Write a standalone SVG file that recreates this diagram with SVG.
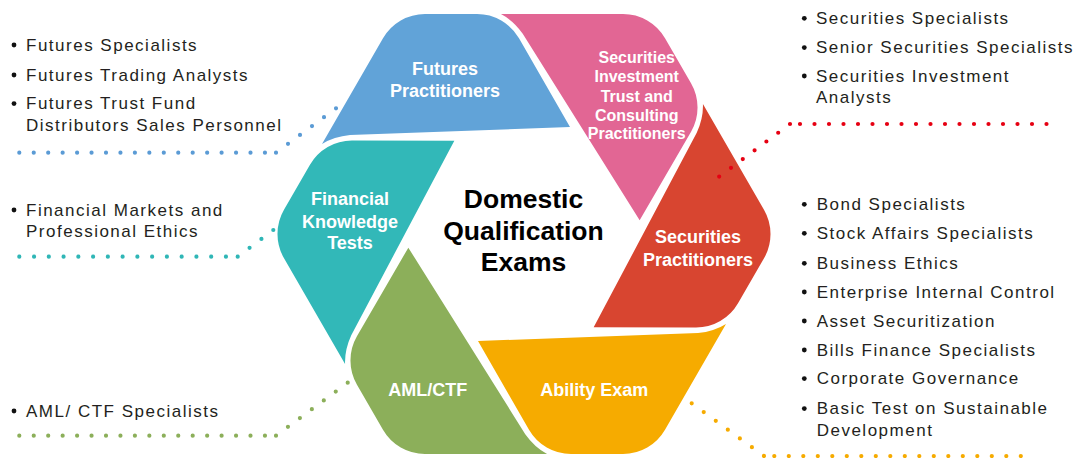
<svg xmlns="http://www.w3.org/2000/svg" xmlns:xlink="http://www.w3.org/1999/xlink" width="1078" height="458" viewBox="0 0 1078 458">
  <style>
    .seg-label { font-family: "Liberation Sans", Arial, sans-serif; font-weight: bold; font-size: 18px; fill: #ffffff; text-anchor: middle; }
    .title { font-family: "Liberation Sans", Arial, sans-serif; font-weight: bold; font-size: 26.5px; fill: #000000; text-anchor: middle; }
    .item { font-family: "Liberation Sans", Arial, sans-serif; font-size: 17px; letter-spacing: 1.5px; fill: #231f20; }
    .bullet { fill: #111111; }
    .dots { fill: none; stroke-width: 4.2; stroke-linecap: round; }
  </style>
  <defs>
    <!-- one ring segment, drawn around the ring centre; the others are 60° rotations -->
    <path id="segment" d="M-202,-90 L-141,-195.7 A48.5,48.5 0 0 1 -99,-220 L-47,-220 A48.5,48.5 0 0 1 -5,-195.8 L46,-107 L-174,-99 Q-190,-97.5 -202,-90 Z"/>
  </defs>

  <rect width="1078" height="458" fill="#ffffff"/>

  <!-- ring segments -->
  <g id="futures">
    <use xlink:href="#segment" transform="translate(524,234)" fill="#61a3d8"/>
    <text class="seg-label" x="445" y="75">Futures</text>
    <text class="seg-label" x="445" y="96.7">Practitioners</text>
  </g>
  <g id="sitca">
    <use xlink:href="#segment" transform="translate(524,234) rotate(60)" fill="#e26694"/>
    <text class="seg-label" style="font-size:16px" x="636.7" y="62.7">Securities</text>
    <text class="seg-label" style="font-size:16px" x="636.7" y="82">Investment</text>
    <text class="seg-label" style="font-size:16px" x="636.7" y="101.7">Trust and</text>
    <text class="seg-label" style="font-size:16px" x="636.7" y="120.7">Consulting</text>
    <text class="seg-label" style="font-size:16px" x="636.7" y="139.3">Practitioners</text>
  </g>
  <g id="securities">
    <use xlink:href="#segment" transform="translate(524,234) rotate(120)" fill="#d84530"/>
    <text class="seg-label" x="698" y="243.3">Securities</text>
    <text class="seg-label" x="698" y="265.7">Practitioners</text>
  </g>
  <g id="ability">
    <use xlink:href="#segment" transform="translate(524,234) rotate(180)" fill="#f6ab00"/>
    <text class="seg-label" x="594.3" y="395.7">Ability Exam</text>
  </g>
  <g id="amlctf">
    <use xlink:href="#segment" transform="translate(524,234) rotate(240)" fill="#8caf5a"/>
    <text class="seg-label" x="427.7" y="395.7">AML/CTF</text>
  </g>
  <g id="financial">
    <use xlink:href="#segment" transform="translate(524,234) rotate(300)" fill="#32b8b8"/>
    <text class="seg-label" x="350" y="205">Financial</text>
    <text class="seg-label" x="350" y="227.7">Knowledge</text>
    <text class="seg-label" x="350" y="249">Tests</text>
  </g>

  <g id="centre">
    <text class="title" x="523.5" y="208.3">Domestic</text>
    <text class="title" x="523.5" y="240">Qualification</text>
    <text class="title" x="523.5" y="270.5">Exams</text>
  </g>

  <!-- dotted leader lines -->
  <g id="connectors" class="dots">
    <path stroke="#5b9bd5" stroke-dasharray="0 14.45" d="M19.3,152.7 H265.5"/>
    <path stroke="#5b9bd5" stroke-dasharray="0 14.93" d="M276,152.7 L336.4,108"/>
    <path stroke="#2fb6b6" stroke-dasharray="0 14.76" d="M19.3,256.7 H226.5"/>
    <path stroke="#2fb6b6" stroke-dasharray="0 14.83" d="M237.7,256.7 L273.7,229.7"/>
    <path stroke="#8caf5a" stroke-dasharray="0 14.45" d="M19.3,435.7 H265.5"/>
    <path stroke="#8caf5a" stroke-dasharray="0 14.86" d="M276,435.7 L348,382.5"/>
    <path stroke="#e60012" stroke-dasharray="0 14.5" d="M800,124 H1047"/>
    <path stroke="#e60012" stroke-dasharray="0 14.7" d="M790,124 L718.6,177"/>
    <path stroke="#f6ab00" stroke-dasharray="0 14.9" d="M691.7,403.3 L764.4,456.3"/>
    <path stroke="#f6ab00" stroke-dasharray="0 14.5" d="M774.3,456 H1021.5"/>
  </g>

  <!-- job lists -->
  <g id="list-futures">
    <circle class="bullet" cx="14" cy="45" r="2.4"/>
    <text class="item" x="26" y="50.7">Futures Specialists</text>
    <circle class="bullet" cx="14" cy="75" r="2.4"/>
    <text class="item" x="26" y="80.7">Futures Trading Analysts</text>
    <circle class="bullet" cx="14" cy="103.6" r="2.4"/>
    <text class="item" x="26" y="109.3">Futures Trust Fund</text>
    <text class="item" x="26" y="130.7">Distributors Sales Personnel</text>
  </g>
  <g id="list-financial">
    <circle class="bullet" cx="14" cy="210" r="2.4"/>
    <text class="item" x="26" y="215.7">Financial Markets and</text>
    <text class="item" x="26" y="237.3">Professional Ethics</text>
  </g>
  <g id="list-aml">
    <circle class="bullet" cx="14" cy="411" r="2.4"/>
    <text class="item" x="26" y="416.7">AML/ CTF Specialists</text>
  </g>
  <g id="list-sitca">
    <circle class="bullet" cx="804.3" cy="18.3" r="2.4"/>
    <text class="item" x="816" y="24">Securities Specialists</text>
    <circle class="bullet" cx="804.3" cy="47.6" r="2.4"/>
    <text class="item" x="816" y="53.3">Senior Securities Specialists</text>
    <circle class="bullet" cx="804.3" cy="76" r="2.4"/>
    <text class="item" x="816" y="81.7">Securities Investment</text>
    <text class="item" x="816" y="103.3">Analysts</text>
  </g>
  <g id="list-securities">
    <circle class="bullet" cx="804.3" cy="204.3" r="2.4"/>
    <text class="item" x="816.7" y="210">Bond Specialists</text>
    <circle class="bullet" cx="804.3" cy="233.3" r="2.4"/>
    <text class="item" x="816.7" y="239">Stock Affairs Specialists</text>
    <circle class="bullet" cx="804.3" cy="263.3" r="2.4"/>
    <text class="item" x="816.7" y="269">Business Ethics</text>
    <circle class="bullet" cx="804.3" cy="292" r="2.4"/>
    <text class="item" x="816.7" y="297.7">Enterprise Internal Control</text>
    <circle class="bullet" cx="804.3" cy="321" r="2.4"/>
    <text class="item" x="816.7" y="326.7">Asset Securitization</text>
    <circle class="bullet" cx="804.3" cy="350" r="2.4"/>
    <text class="item" x="816.7" y="355.7">Bills Finance Specialists</text>
    <circle class="bullet" cx="804.3" cy="378.6" r="2.4"/>
    <text class="item" x="816.7" y="384.3">Corporate Governance</text>
    <circle class="bullet" cx="804.3" cy="408.6" r="2.4"/>
    <text class="item" x="816.7" y="414.3">Basic Test on Sustainable</text>
    <text class="item" x="816.7" y="436">Development</text>
  </g>
</svg>
